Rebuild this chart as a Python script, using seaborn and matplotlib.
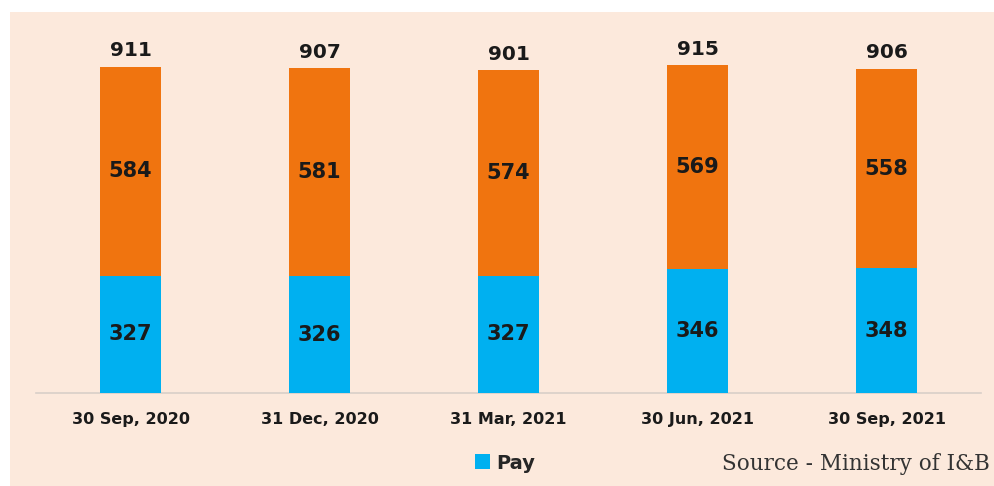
import matplotlib
matplotlib.use("Agg")
import matplotlib.pyplot as plt
import seaborn as sns
import pandas as pd
from matplotlib.patches import Rectangle, Patch

# channel counts
dates = ["30 Sep, 2020", "31 Dec, 2020", "31 Mar, 2021", "30 Jun, 2021", "30 Sep, 2021"]
pay = [327, 326, 327, 346, 348]
free = [584, 581, 574, 569, 558]
total = [911, 907, 901, 915, 906]

PAY_COLOR = "#00B0F0"
FREE_COLOR = "#F0740F"
BG = "#FCE9DC"
TEXT = "#1a1a1a"

df = pd.DataFrame({"date": dates, "pay": pay, "free": free, "total": total})

sns.set_style("white")
fig = plt.figure(figsize=(9.95, 4.86), dpi=100)
fig.patch.set_facecolor("white")
fig.patches.append(Rectangle((10 / 995, 0), 1 - 10 / 995, 1 - 12 / 486,
                             transform=fig.transFigure, facecolor=BG,
                             edgecolor="none", zorder=-10))

ax = fig.add_axes([36 / 995, 93 / 486, 945 / 995, 358 / 486])
ax.set_facecolor("none")

# stacked: full-height orange bar, pay drawn on top
sns.barplot(data=df, x="date", y="total", color=FREE_COLOR, width=0.32,
            saturation=1, linewidth=0, ax=ax, zorder=2)
sns.barplot(data=df, x="date", y="pay", color=PAY_COLOR, width=0.32,
            saturation=1, linewidth=0, ax=ax, zorder=3)

ax.set_ylim(0, 1000)
ax.set_xlim(-0.5, len(dates) - 0.5)
ax.set_xlabel("")
ax.set_ylabel("")
ax.set_yticks([])
for s in ["top", "left", "right"]:
    ax.spines[s].set_visible(False)
ax.spines["bottom"].set_color("#d9cfc8")
ax.spines["bottom"].set_linewidth(1.2)
ax.tick_params(axis="x", length=0, pad=14)
for lbl in ax.get_xticklabels():
    lbl.set_fontweight("bold")
    lbl.set_fontsize(11.5)
    lbl.set_color(TEXT)

for i in range(len(dates)):
    ax.text(i, pay[i] / 2, str(pay[i]), ha="center", va="center",
            fontsize=15, fontweight="bold", color=TEXT, zorder=4)
    ax.text(i, pay[i] + free[i] / 2, str(free[i]), ha="center", va="center",
            fontsize=15, fontweight="bold", color=TEXT, zorder=4)
    ax.text(i, total[i] + 18, str(total[i]), ha="center", va="bottom",
            fontsize=14.5, fontweight="bold", color=TEXT, zorder=4)

handles = [Patch(facecolor=PAY_COLOR, edgecolor="none")]
fig.legend(handles, ["Pay"], loc="center", bbox_to_anchor=(505 / 995, 1 - 463 / 486),
           frameon=False, prop={"weight": "bold", "size": 14},
           handlelength=0.8, handleheight=0.8, handletextpad=0.3)

fig.text(990 / 995, 1 - 464 / 486, "Source - Ministry of I&B", ha="right", va="center",
         family="DejaVu Serif", fontsize=15.5, color="#333333")

fig.savefig("out.png", dpi=100)
